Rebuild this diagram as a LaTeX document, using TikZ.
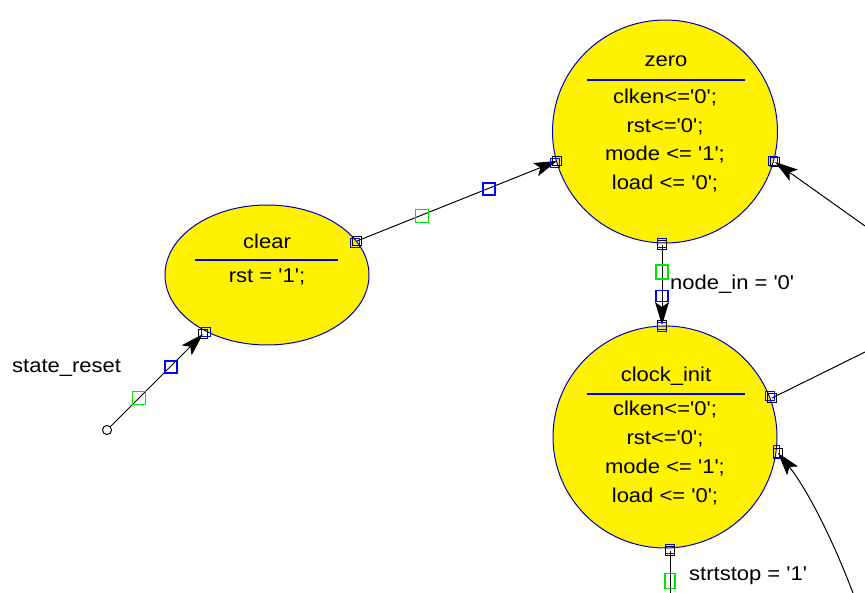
\documentclass[tikz,border=0pt]{standalone}
\usepackage{fontspec}
\setmainfont{Liberation Sans}[FakeStretch=1.1, Ligatures=TeXOff]
\usetikzlibrary{arrows.meta,shapes.geometric}
\begin{document}
\begin{tikzpicture}[x=1pt,y=-1pt,
  state/.style={draw=blue!70!black, fill=yellow, line width=1pt, inner sep=0},
  lbl/.style={font=\fontsize{20}{24}\selectfont, inner sep=0},
  sepline/.style={draw=blue!80!black, line width=1.4pt},
  wire/.style={draw=black, line width=1pt},
  arr/.style={-{Stealth[length=23pt,width=14pt,inset=5pt]}},
  gport/.style={draw=green!90!black, line width=1.3pt, minimum width=13pt, minimum height=13pt, inner sep=0},
  bport/.style={draw=blue, line width=1.3pt, minimum width=12pt, minimum height=12pt, inner sep=0},
  kport/.style={draw=black, line width=1pt, minimum size=9pt, inner sep=0},
  sport/.style={draw=blue, line width=1pt, minimum size=9pt, inner sep=0},
]
\useasboundingbox (0,0) rectangle (865,593);

% states
\node[state, ellipse, minimum width=204pt, minimum height=140pt] (clear) at (267,275) {};
\node[state, ellipse, minimum width=225pt, minimum height=223pt] (zero) at (665,131.5) {};
\node[state, ellipse, minimum width=224pt, minimum height=222pt] (clk) at (665,437) {};

% clear text
\node[lbl] (clearT) at (267,241) {clear};
\draw[sepline] (195,260) -- (338,260);
\node[lbl] (clearA) at (267,277) {rst = '1';};

% zero text
\node[lbl] (zeroT) at (666,61) {zero};
\draw[sepline] (587,80) -- (745,80);
\node[lbl] (zeroA) at (665,98) {clken<='0';};
\node[lbl] (zeroB) at (665,127) {rst<='0';};
\node[lbl] (zeroC) at (665,155) {mode <= '1';};
\node[lbl] (zeroD) at (665,184) {load <= '0';};

% clock_init text
\node[lbl] (clkT) at (666,376) {clock\_init};
\draw[sepline] (587,394) -- (745,394);
\node[lbl] (clkA) at (665,410) {clken<='0';};
\node[lbl] (clkB) at (665,439) {rst<='0';};
\node[lbl] (clkC) at (665,468) {mode <= '1';};
\node[lbl] (clkD) at (665,497) {load <= '0';};

% port coordinates
\coordinate (r0) at (107,430);
\coordinate (pClearIn) at (203,334);
\coordinate (pClearOut) at (357,241);
\coordinate (pZeroIn) at (557,161);
\coordinate (pZeroBot) at (662,245);
\coordinate (pClkTop) at (662,325);
\coordinate (pZeroR) at (775,162);
\coordinate (eZeroR) at (865,226);
\coordinate (pClkR1) at (772,398);
\coordinate (eClkR1) at (865,352);
\coordinate (pClkR2) at (778,453);
\coordinate (eClkR2) at (853,593);
\coordinate (pClkBot) at (670,551);
\coordinate (eClkBot) at (670,593);

% wires
\draw[wire, arr] (r0) -- (pClearIn);
\draw[wire, arr] (pClearOut) -- (pZeroIn);
\draw[wire, arr] (pZeroBot) -- (pClkTop);
\draw[wire, arr] (eZeroR) -- (pZeroR);
\draw[wire] (pClkR1) -- (eClkR1);
\draw[wire, arr] (eClkR2) .. controls (825,520) and (800,480) .. (pClkR2);
\draw[wire] (pClkBot) -- (eClkBot);

% start circle
\node[draw=black, fill=white, circle, minimum size=9pt, inner sep=0, line width=1pt] (rs) at (r0) {};

% ports on states
\node[sport] (sp1) at (206,332) {};
\node[kport] (kp1) at (pClearIn) {};
\node[sport] (sp2) at (355,243) {};
\node[kport] (kp2) at (pClearOut) {};
\node[sport] (sp3) at (555,163) {};
\node[kport] (kp3) at (pZeroIn) {};
\node[sport] (sp4) at (662,243) {};
\node[kport] (kp4) at (pZeroBot) {};
\node[sport] (sp5) at (662,327) {};
\node[kport] (kp5) at (pClkTop) {};
\node[sport] (sp6) at (773,161) {};
\node[kport] (kp6) at (pZeroR) {};
\node[sport] (sp7) at (770,396) {};
\node[kport] (kp7) at (pClkR1) {};
\node[sport, minimum width=6pt, minimum height=13pt] (sp8) at (776,452) {};
\node[kport] (kp8) at (pClkR2) {};
\node[sport] (sp9) at (670,549) {};
\node[kport] (kp9) at (pClkBot) {};

% mid-wire markers
\node[gport] (g1) at (139,398) {};
\node[bport] (b1) at (171,367) {};
\node[gport] (g2) at (422,216) {};
\node[bport] (b2) at (489,189) {};
\node[gport, minimum width=12pt, minimum height=14pt] (g3) at (662,272) {};
\node[bport, minimum width=12pt, minimum height=11pt] (b3) at (662,296) {};
\node[gport, minimum width=10pt, minimum height=15pt] (g4) at (670,581) {};

% labels
\node[lbl, anchor=west] (lReset) at (12,368) {state\_reset};
\node[lbl, anchor=west] (lNode) at (670,284) {node\_in = '0'};
\node[lbl, anchor=west] (lStrt) at (689,576) {strtstop = '1'};
\end{tikzpicture}
\end{document}
